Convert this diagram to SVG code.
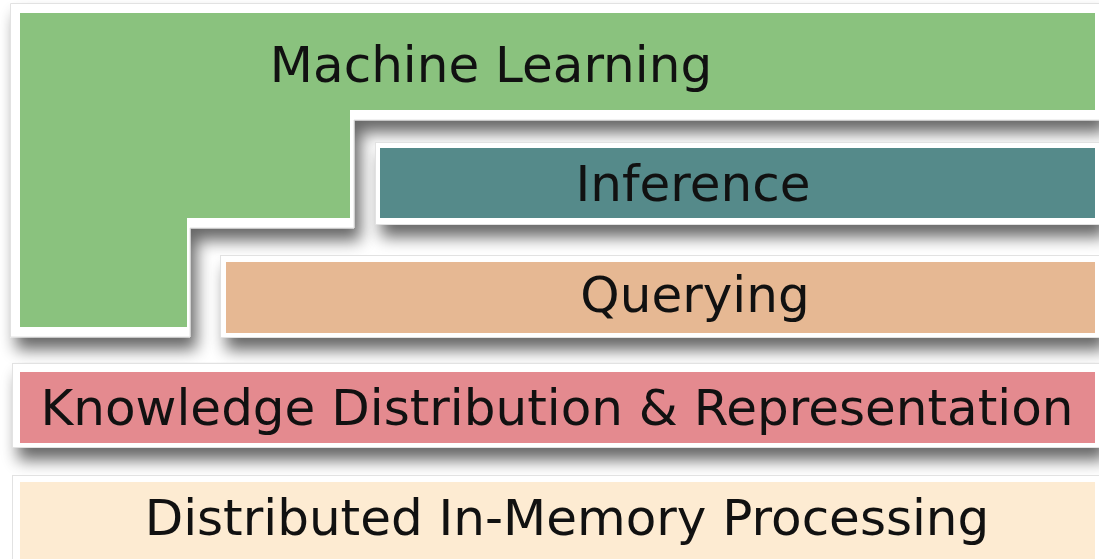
<svg xmlns="http://www.w3.org/2000/svg" width="1099" height="559" viewBox="0 0 1099 559">
  <defs>
    <!-- soft drop shadow cast down and to the right of every layer -->
    <filter id="shadow" x="-5%" y="-15%" width="115%" height="160%">
      <feGaussianBlur in="SourceAlpha" stdDeviation="8"/>
      <feOffset dx="6" dy="12" result="blur"/>
      <feComponentTransfer>
        <feFuncA type="linear" slope="0.6"/>
      </feComponentTransfer>
      <feMerge>
        <feMergeNode/>
        <feMergeNode in="SourceGraphic"/>
      </feMerge>
    </filter>
    <style>
      .frame { fill: #ffffff; stroke: #e2e2e2; stroke-width: 1; }
      .label { font-family: "DejaVu Sans", "Liberation Sans", sans-serif; font-size: 50px; fill: #111111; text-anchor: middle; }
      .ml { fill: #8ac27e; }
      .inf { fill: #558a8a; }
      .qry { fill: #e6b893; }
      .kdr { fill: #e48a8f; }
      .dimp { fill: #fdebd2; }
    </style>
  </defs>

  <rect width="1099" height="559" fill="#ffffff"/>

  <!-- Machine Learning: stepped layer wrapping the ones below -->
  <g id="machine-learning">
    <polygon class="frame" filter="url(#shadow)" points="10.5,3.5 1100,3.5 1100,120 354,120 354,228 190,228 190,337 10.5,337"/>
    <polygon class="ml" points="20,13 1095,13 1095,110 350,110 350,218 187,218 187,327 20,327"/>
    <text class="label" x="491" y="82">Machine Learning</text>
  </g>

  <!-- Inference -->
  <g id="inference">
    <rect class="frame" filter="url(#shadow)" x="375.5" y="142.5" width="724" height="82"/>
    <rect class="inf" x="380" y="148" width="715" height="70"/>
    <text class="label" x="693" y="201">Inference</text>
  </g>

  <!-- Querying -->
  <g id="querying">
    <rect class="frame" filter="url(#shadow)" x="220.5" y="255.5" width="879" height="82"/>
    <rect class="qry" x="226" y="262" width="869" height="71"/>
    <text class="label" x="695" y="312">Querying</text>
  </g>

  <!-- Knowledge Distribution & Representation -->
  <g id="knowledge">
    <rect class="frame" filter="url(#shadow)" x="12.5" y="363.5" width="1087" height="84"/>
    <rect class="kdr" x="20" y="372" width="1075" height="71"/>
    <text class="label" x="557" y="425">Knowledge Distribution &amp; Representation</text>
  </g>

  <!-- Distributed In-Memory Processing (base layer) -->
  <g id="in-memory">
    <rect class="frame" x="12.5" y="475.5" width="1087" height="84"/>
    <rect class="dimp" x="20" y="482" width="1075" height="77"/>
    <text class="label" x="567" y="535">Distributed In-Memory Processing</text>
  </g>
</svg>
